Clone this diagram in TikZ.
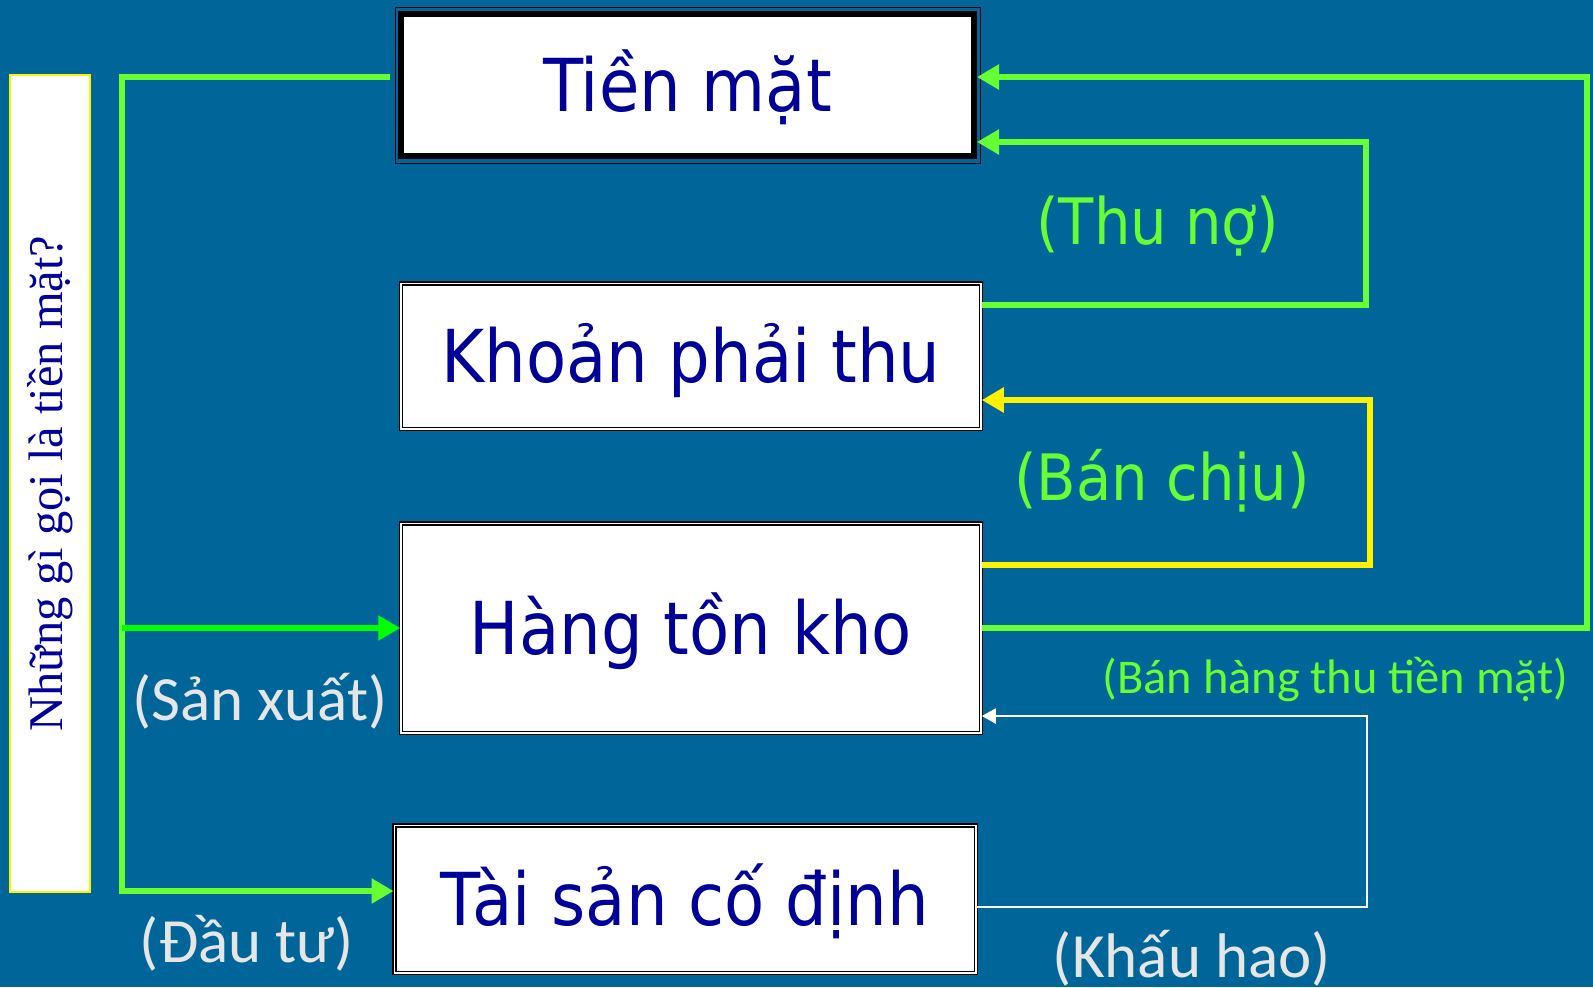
\documentclass[tikz,border=0pt]{standalone}
\usepackage{fontspec}
\setmainfont{DejaVu Sans Condensed}
\newfontfamily\calfont{Carlito}
\newfontfamily\serfont{Liberation Serif}
\usetikzlibrary{arrows.meta}
\definecolor{bgblue}{HTML}{006699}
\definecolor{navy}{HTML}{000099}
\definecolor{lime}{HTML}{66FF33}
\definecolor{puregreen}{HTML}{00FF00}
\definecolor{labgrey}{HTML}{E6E6E6}
\tikzset{
    cashnode/.style = {rectangle, draw=black, line width=3pt, fill=white, text=navy, text height=26.6pt, text depth=0pt, font=\fontsize{36.5}{40}\selectfont},
    mynode/.style = {rectangle, draw=black, line width=0.75pt, double=white, double distance=0.75pt, fill=white, text=navy, text height=26.6pt, text depth=0pt, font=\fontsize{36.5}{40}\selectfont},
    sidebox/.style = {rectangle, draw=yellow, line width=1pt, fill=white, text=navy, font=\serfont\fontsize{24.2}{28}\selectfont},
    lblt/.style = {anchor=base, inner sep=0pt, text=lime, font=\fontsize{32}{36}\selectfont}, % thu no, ban chiu
    lblc/.style = {anchor=base, inner sep=0pt, text=labgrey, font=\calfont\fontsize{31.5}{36}\selectfont},
    edgeg/.style = {-{Triangle[length=11pt,width=12pt]}, line width=3pt, lime},
    edgep/.style = {-{Triangle[length=11pt,width=12pt]}, line width=3pt, puregreen},
    edgey/.style = {-{Triangle[length=11pt,width=12pt]}, line width=3pt, yellow},
    edgew/.style = {-{Triangle[length=7pt,width=7.5pt]}, line width=1pt, white}
}
\begin{document}
\begin{tikzpicture}[x=0.5pt, y=-0.5pt]
  \fill[bgblue] (0,0) rectangle (1593,987);
  \useasboundingbox (0,0) rectangle (1593,987);

  % boxes
  \node[cashnode, minimum width=286.5pt, minimum height=71pt] (tm) at (687.5,85) {Tiền mặt};
  \draw[black, line width=0.5pt] ([shift={(-3,-4)}]tm.north west) rectangle ([shift={(3,4)}]tm.south east);
  \node[mynode, minimum width=290pt, minimum height=72.75pt] (kpt) at (691,356) {Khoản phải thu};
  \node[mynode, minimum width=290pt, minimum height=104.75pt] (htk) at (691,628) {Hàng tồn kho};
  \node[mynode, minimum width=290.75pt, minimum height=73.75pt] (tscd) at (685,899) {Tài sản cố định};

  \node[sidebox, rotate=90, minimum width=408.5pt, minimum height=40pt] (side) at (50,483.5) {Những gì gọi là tiền mặt?};

  \coordinate (lt) at (122,77);
  \coordinate (lb) at (122,891);
  \coordinate (rr) at (1587,77);
  \coordinate (tn) at (1366,142);
  \coordinate (tnb) at (1366,305);
  \coordinate (bc) at (1370,400);
  \coordinate (bcb) at (1370,565);
  \coordinate (kh) at (1367,716);
  \coordinate (khb) at (1367,907);

  % left side
  \draw[edgeg, shorten <=4pt] (tm.west |- lt) -- (lt) -- (lb) -- (tscd.west |- lb);
  \draw[edgep] (lt |- htk.west) -- (htk.west);

  % right side
  \draw[edgeg] (htk.east) -- (htk.east -| rr) -- (rr) -- (tm.east |- rr);
  \draw[edgeg] (kpt.east |- tnb) -- (tnb) -- (tn) -- (tm.east |- tn);
  \draw[edgey] (htk.east |- bcb) -- (bcb) -- (bc) -- (kpt.east |- bc);
  \draw[edgew] (tscd.east |- khb) -- (khb) -- (kh) -- (htk.east |- kh);

  % labels
  \node[lblt] (thuno) at (1158,244) {(Thu nợ)};
  \node[lblt] (banchiu) at (1162,500) {(Bán chịu)};
  \node[lblc, text=lime, font=\calfont\fontsize{24.2}{28}\selectfont] (banhang) at (1335.5,693) {(Bán hàng thu tiền mặt)};
  \node[lblc] (sanxuat) at (260,720) {(Sản xuất)};
  \node[lblc] (dautu) at (247,962) {(Đầu tư)};
  \node[lblc] (khauhao) at (1192,977) {(Khấu hao)};
\end{tikzpicture}
\end{document}
